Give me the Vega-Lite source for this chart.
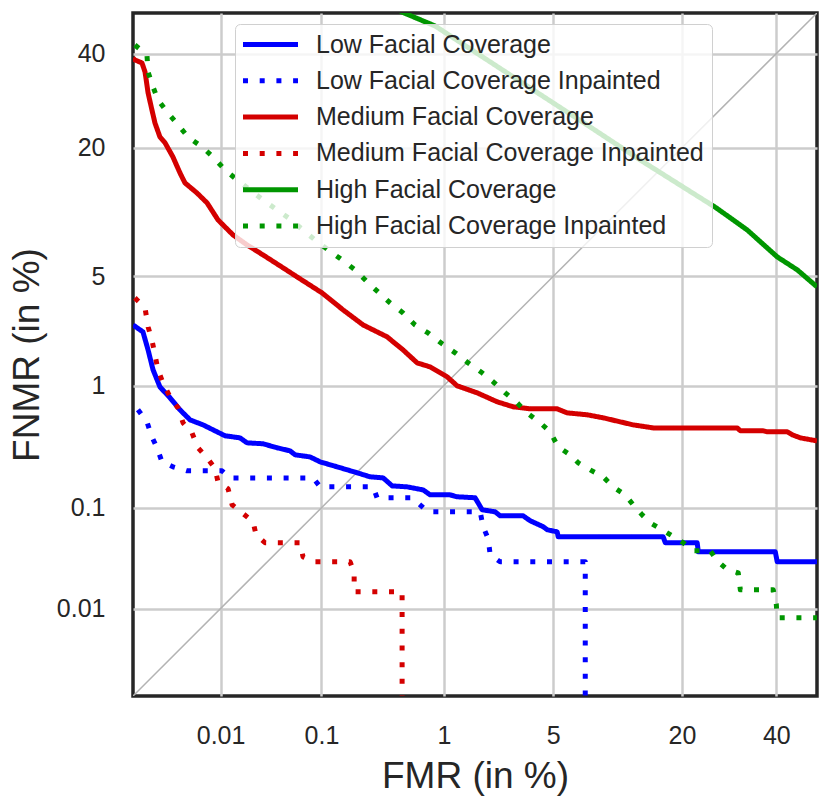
{
 "$schema": "https://vega.github.io/schema/vega-lite/v6.json",
 "width": 684,
 "height": 683,
 "autosize": "none",
 "padding": {"left": 133, "top": 13, "right": 12, "bottom": 110},
 "background": "white",
 "config": {
  "font": "Liberation Sans",
  "view": {"stroke": "#262626", "strokeWidth": 3.5},
  "axis": {"grid": true, "gridColor": "#cccccc", "gridWidth": 2.5, "ticks": false, "domain": false, "labelFont": "Liberation Sans", "labelFontSize": 25, "labelColor": "#262626", "titleFont": "Liberation Sans", "titleFontSize": 37, "titleFontWeight": "normal", "titleColor": "#262626"},
  "axisX": {"labelPadding": 27, "titlePadding": 10},
  "axisY": {"labelPadding": 28, "titlePadding": 10},
  "legend": {"orient": "none", "legendX": 102, "legendY": 11, "title": null, "symbolType": "M-2.75,0H2.75", "symbolSize": 400, "symbolStrokeWidth": 5, "symbolOffset": 15, "labelFontSize": 25, "labelFont": "Liberation Sans", "labelColor": "#262626", "labelOffset": 33, "rowPadding": 10.3, "padding": 8, "fillColor": "rgba(255,255,255,0.8)", "strokeColor": "#d0d0d0", "cornerRadius": 5, "labelLimit": 600}
 },
 "datasets": {
  "diag": [{"fmr_z": -4.265, "fnmr_z": -4.265}, {"fmr_z": 0, "fnmr_z": 0}],
  "curves": [
   {"series":"Low Facial Coverage","i":0,"fmr_z":-4.265,"fnmr_z":-1.948},
   {"series":"Low Facial Coverage","i":1,"fmr_z":-4.203,"fnmr_z":-1.991},
   {"series":"Low Facial Coverage","i":2,"fmr_z":-4.171,"fnmr_z":-2.104},
   {"series":"Low Facial Coverage","i":3,"fmr_z":-4.140,"fnmr_z":-2.228},
   {"series":"Low Facial Coverage","i":4,"fmr_z":-4.097,"fnmr_z":-2.335},
   {"series":"Low Facial Coverage","i":5,"fmr_z":-4.034,"fnmr_z":-2.403},
   {"series":"Low Facial Coverage","i":6,"fmr_z":-3.972,"fnmr_z":-2.478},
   {"series":"Low Facial Coverage","i":7,"fmr_z":-3.909,"fnmr_z":-2.541},
   {"series":"Low Facial Coverage","i":8,"fmr_z":-3.828,"fnmr_z":-2.572},
   {"series":"Low Facial Coverage","i":9,"fmr_z":-3.766,"fnmr_z":-2.603},
   {"series":"Low Facial Coverage","i":10,"fmr_z":-3.691,"fnmr_z":-2.640},
   {"series":"Low Facial Coverage","i":11,"fmr_z":-3.598,"fnmr_z":-2.653},
   {"series":"Low Facial Coverage","i":12,"fmr_z":-3.554,"fnmr_z":-2.684},
   {"series":"Low Facial Coverage","i":13,"fmr_z":-3.454,"fnmr_z":-2.690},
   {"series":"Low Facial Coverage","i":14,"fmr_z":-3.367,"fnmr_z":-2.715},
   {"series":"Low Facial Coverage","i":15,"fmr_z":-3.286,"fnmr_z":-2.734},
   {"series":"Low Facial Coverage","i":16,"fmr_z":-3.254,"fnmr_z":-2.759},
   {"series":"Low Facial Coverage","i":17,"fmr_z":-3.161,"fnmr_z":-2.772},
   {"series":"Low Facial Coverage","i":18,"fmr_z":-3.098,"fnmr_z":-2.803},
   {"series":"Low Facial Coverage","i":19,"fmr_z":-2.992,"fnmr_z":-2.834},
   {"series":"Low Facial Coverage","i":20,"fmr_z":-2.868,"fnmr_z":-2.871},
   {"series":"Low Facial Coverage","i":21,"fmr_z":-2.787,"fnmr_z":-2.896},
   {"series":"Low Facial Coverage","i":22,"fmr_z":-2.705,"fnmr_z":-2.903},
   {"series":"Low Facial Coverage","i":23,"fmr_z":-2.649,"fnmr_z":-2.953},
   {"series":"Low Facial Coverage","i":24,"fmr_z":-2.556,"fnmr_z":-2.959},
   {"series":"Low Facial Coverage","i":25,"fmr_z":-2.456,"fnmr_z":-2.978},
   {"series":"Low Facial Coverage","i":26,"fmr_z":-2.412,"fnmr_z":-3.009},
   {"series":"Low Facial Coverage","i":27,"fmr_z":-2.288,"fnmr_z":-3.009},
   {"series":"Low Facial Coverage","i":28,"fmr_z":-2.244,"fnmr_z":-3.021},
   {"series":"Low Facial Coverage","i":29,"fmr_z":-2.132,"fnmr_z":-3.027},
   {"series":"Low Facial Coverage","i":30,"fmr_z":-2.088,"fnmr_z":-3.102},
   {"series":"Low Facial Coverage","i":31,"fmr_z":-2.007,"fnmr_z":-3.115},
   {"series":"Low Facial Coverage","i":32,"fmr_z":-1.976,"fnmr_z":-3.140},
   {"series":"Low Facial Coverage","i":33,"fmr_z":-1.832,"fnmr_z":-3.140},
   {"series":"Low Facial Coverage","i":34,"fmr_z":-1.788,"fnmr_z":-3.171},
   {"series":"Low Facial Coverage","i":35,"fmr_z":-1.707,"fnmr_z":-3.208},
   {"series":"Low Facial Coverage","i":36,"fmr_z":-1.682,"fnmr_z":-3.227},
   {"series":"Low Facial Coverage","i":37,"fmr_z":-1.620,"fnmr_z":-3.240},
   {"series":"Low Facial Coverage","i":38,"fmr_z":-1.614,"fnmr_z":-3.271},
   {"series":"Low Facial Coverage","i":39,"fmr_z":-0.959,"fnmr_z":-3.271},
   {"series":"Low Facial Coverage","i":40,"fmr_z":-0.946,"fnmr_z":-3.308},
   {"series":"Low Facial Coverage","i":41,"fmr_z":-0.747,"fnmr_z":-3.308},
   {"series":"Low Facial Coverage","i":42,"fmr_z":-0.740,"fnmr_z":-3.365},
   {"series":"Low Facial Coverage","i":43,"fmr_z":-0.260,"fnmr_z":-3.365},
   {"series":"Low Facial Coverage","i":44,"fmr_z":-0.248,"fnmr_z":-3.427},
   {"series":"Low Facial Coverage","i":45,"fmr_z":0.0,"fnmr_z":-3.427},

   {"series":"Low Facial Coverage Inpainted","i":0,"fmr_z":-4.234,"fnmr_z":-2.478},
   {"series":"Low Facial Coverage Inpainted","i":1,"fmr_z":-4.178,"fnmr_z":-2.553},
   {"series":"Low Facial Coverage Inpainted","i":2,"fmr_z":-4.147,"fnmr_z":-2.647},
   {"series":"Low Facial Coverage Inpainted","i":3,"fmr_z":-4.115,"fnmr_z":-2.715},
   {"series":"Low Facial Coverage Inpainted","i":4,"fmr_z":-4.084,"fnmr_z":-2.803},
   {"series":"Low Facial Coverage Inpainted","i":5,"fmr_z":-4.016,"fnmr_z":-2.834},
   {"series":"Low Facial Coverage Inpainted","i":6,"fmr_z":-3.928,"fnmr_z":-2.859},
   {"series":"Low Facial Coverage Inpainted","i":7,"fmr_z":-3.710,"fnmr_z":-2.859},
   {"series":"Low Facial Coverage Inpainted","i":8,"fmr_z":-3.660,"fnmr_z":-2.903},
   {"series":"Low Facial Coverage Inpainted","i":9,"fmr_z":-3.142,"fnmr_z":-2.903},
   {"series":"Low Facial Coverage Inpainted","i":10,"fmr_z":-3.098,"fnmr_z":-2.959},
   {"series":"Low Facial Coverage Inpainted","i":11,"fmr_z":-2.768,"fnmr_z":-2.959},
   {"series":"Low Facial Coverage Inpainted","i":12,"fmr_z":-2.743,"fnmr_z":-3.027},
   {"series":"Low Facial Coverage Inpainted","i":13,"fmr_z":-2.525,"fnmr_z":-3.027},
   {"series":"Low Facial Coverage Inpainted","i":14,"fmr_z":-2.425,"fnmr_z":-3.115},
   {"series":"Low Facial Coverage Inpainted","i":15,"fmr_z":-2.100,"fnmr_z":-3.115},
   {"series":"Low Facial Coverage Inpainted","i":16,"fmr_z":-2.082,"fnmr_z":-3.208},
   {"series":"Low Facial Coverage Inpainted","i":17,"fmr_z":-2.050,"fnmr_z":-3.283},
   {"series":"Low Facial Coverage Inpainted","i":18,"fmr_z":-2.038,"fnmr_z":-3.383},
   {"series":"Low Facial Coverage Inpainted","i":19,"fmr_z":-1.976,"fnmr_z":-3.427},
   {"series":"Low Facial Coverage Inpainted","i":20,"fmr_z":-1.445,"fnmr_z":-3.427},
   {"series":"Low Facial Coverage Inpainted","i":21,"fmr_z":-1.445,"fnmr_z":-4.6},

   {"series":"Medium Facial Coverage","i":0,"fmr_z":-4.265,"fnmr_z":-0.281},
   {"series":"Medium Facial Coverage","i":1,"fmr_z":-4.253,"fnmr_z":-0.293},
   {"series":"Medium Facial Coverage","i":2,"fmr_z":-4.209,"fnmr_z":-0.312},
   {"series":"Medium Facial Coverage","i":3,"fmr_z":-4.190,"fnmr_z":-0.368},
   {"series":"Medium Facial Coverage","i":4,"fmr_z":-4.171,"fnmr_z":-0.499},
   {"series":"Medium Facial Coverage","i":5,"fmr_z":-4.147,"fnmr_z":-0.605},
   {"series":"Medium Facial Coverage","i":6,"fmr_z":-4.128,"fnmr_z":-0.687},
   {"series":"Medium Facial Coverage","i":7,"fmr_z":-4.097,"fnmr_z":-0.774},
   {"series":"Medium Facial Coverage","i":8,"fmr_z":-4.065,"fnmr_z":-0.811},
   {"series":"Medium Facial Coverage","i":9,"fmr_z":-4.016,"fnmr_z":-0.899},
   {"series":"Medium Facial Coverage","i":10,"fmr_z":-3.972,"fnmr_z":-0.999},
   {"series":"Medium Facial Coverage","i":11,"fmr_z":-3.941,"fnmr_z":-1.061},
   {"series":"Medium Facial Coverage","i":12,"fmr_z":-3.866,"fnmr_z":-1.124},
   {"series":"Medium Facial Coverage","i":13,"fmr_z":-3.803,"fnmr_z":-1.186},
   {"series":"Medium Facial Coverage","i":14,"fmr_z":-3.735,"fnmr_z":-1.292},
   {"series":"Medium Facial Coverage","i":15,"fmr_z":-3.641,"fnmr_z":-1.386},
   {"series":"Medium Facial Coverage","i":16,"fmr_z":-3.554,"fnmr_z":-1.448},
   {"series":"Medium Facial Coverage","i":17,"fmr_z":-3.454,"fnmr_z":-1.511},
   {"series":"Medium Facial Coverage","i":18,"fmr_z":-3.348,"fnmr_z":-1.579},
   {"series":"Medium Facial Coverage","i":19,"fmr_z":-3.242,"fnmr_z":-1.648},
   {"series":"Medium Facial Coverage","i":20,"fmr_z":-3.086,"fnmr_z":-1.748},
   {"series":"Medium Facial Coverage","i":21,"fmr_z":-2.955,"fnmr_z":-1.854},
   {"series":"Medium Facial Coverage","i":22,"fmr_z":-2.830,"fnmr_z":-1.948},
   {"series":"Medium Facial Coverage","i":23,"fmr_z":-2.681,"fnmr_z":-2.022},
   {"series":"Medium Facial Coverage","i":24,"fmr_z":-2.581,"fnmr_z":-2.104},
   {"series":"Medium Facial Coverage","i":25,"fmr_z":-2.493,"fnmr_z":-2.185},
   {"series":"Medium Facial Coverage","i":26,"fmr_z":-2.412,"fnmr_z":-2.210},
   {"series":"Medium Facial Coverage","i":27,"fmr_z":-2.306,"fnmr_z":-2.272},
   {"series":"Medium Facial Coverage","i":28,"fmr_z":-2.244,"fnmr_z":-2.328},
   {"series":"Medium Facial Coverage","i":29,"fmr_z":-2.119,"fnmr_z":-2.372},
   {"series":"Medium Facial Coverage","i":30,"fmr_z":-1.994,"fnmr_z":-2.428},
   {"series":"Medium Facial Coverage","i":31,"fmr_z":-1.895,"fnmr_z":-2.459},
   {"series":"Medium Facial Coverage","i":32,"fmr_z":-1.788,"fnmr_z":-2.472},
   {"series":"Medium Facial Coverage","i":33,"fmr_z":-1.620,"fnmr_z":-2.472},
   {"series":"Medium Facial Coverage","i":34,"fmr_z":-1.558,"fnmr_z":-2.497},
   {"series":"Medium Facial Coverage","i":35,"fmr_z":-1.433,"fnmr_z":-2.509},
   {"series":"Medium Facial Coverage","i":36,"fmr_z":-1.333,"fnmr_z":-2.528},
   {"series":"Medium Facial Coverage","i":37,"fmr_z":-1.227,"fnmr_z":-2.553},
   {"series":"Medium Facial Coverage","i":38,"fmr_z":-1.146,"fnmr_z":-2.572},
   {"series":"Medium Facial Coverage","i":39,"fmr_z":-1.021,"fnmr_z":-2.591},
   {"series":"Medium Facial Coverage","i":40,"fmr_z":-0.497,"fnmr_z":-2.591},
   {"series":"Medium Facial Coverage","i":41,"fmr_z":-0.478,"fnmr_z":-2.609},
   {"series":"Medium Facial Coverage","i":42,"fmr_z":-0.335,"fnmr_z":-2.609},
   {"series":"Medium Facial Coverage","i":43,"fmr_z":-0.310,"fnmr_z":-2.615},
   {"series":"Medium Facial Coverage","i":44,"fmr_z":-0.185,"fnmr_z":-2.615},
   {"series":"Medium Facial Coverage","i":45,"fmr_z":-0.154,"fnmr_z":-2.634},
   {"series":"Medium Facial Coverage","i":46,"fmr_z":-0.104,"fnmr_z":-2.653},
   {"series":"Medium Facial Coverage","i":47,"fmr_z":0.0,"fnmr_z":-2.672},

   {"series":"Medium Facial Coverage Inpainted","i":0,"fmr_z":-4.253,"fnmr_z":-1.779},
   {"series":"Medium Facial Coverage Inpainted","i":1,"fmr_z":-4.240,"fnmr_z":-1.792},
   {"series":"Medium Facial Coverage Inpainted","i":2,"fmr_z":-4.190,"fnmr_z":-1.841},
   {"series":"Medium Facial Coverage Inpainted","i":3,"fmr_z":-4.171,"fnmr_z":-1.960},
   {"series":"Medium Facial Coverage Inpainted","i":4,"fmr_z":-4.147,"fnmr_z":-2.041},
   {"series":"Medium Facial Coverage Inpainted","i":5,"fmr_z":-4.128,"fnmr_z":-2.135},
   {"series":"Medium Facial Coverage Inpainted","i":6,"fmr_z":-4.109,"fnmr_z":-2.228},
   {"series":"Medium Facial Coverage Inpainted","i":7,"fmr_z":-4.078,"fnmr_z":-2.310},
   {"series":"Medium Facial Coverage Inpainted","i":8,"fmr_z":-4.034,"fnmr_z":-2.397},
   {"series":"Medium Facial Coverage Inpainted","i":9,"fmr_z":-3.984,"fnmr_z":-2.466},
   {"series":"Medium Facial Coverage Inpainted","i":10,"fmr_z":-3.953,"fnmr_z":-2.559},
   {"series":"Medium Facial Coverage Inpainted","i":11,"fmr_z":-3.897,"fnmr_z":-2.622},
   {"series":"Medium Facial Coverage Inpainted","i":12,"fmr_z":-3.860,"fnmr_z":-2.715},
   {"series":"Medium Facial Coverage Inpainted","i":13,"fmr_z":-3.803,"fnmr_z":-2.778},
   {"series":"Medium Facial Coverage Inpainted","i":14,"fmr_z":-3.753,"fnmr_z":-2.846},
   {"series":"Medium Facial Coverage Inpainted","i":15,"fmr_z":-3.735,"fnmr_z":-2.928},
   {"series":"Medium Facial Coverage Inpainted","i":16,"fmr_z":-3.672,"fnmr_z":-2.971},
   {"series":"Medium Facial Coverage Inpainted","i":17,"fmr_z":-3.647,"fnmr_z":-3.071},
   {"series":"Medium Facial Coverage Inpainted","i":18,"fmr_z":-3.585,"fnmr_z":-3.121},
   {"series":"Medium Facial Coverage Inpainted","i":19,"fmr_z":-3.516,"fnmr_z":-3.177},
   {"series":"Medium Facial Coverage Inpainted","i":20,"fmr_z":-3.498,"fnmr_z":-3.258},
   {"series":"Medium Facial Coverage Inpainted","i":21,"fmr_z":-3.442,"fnmr_z":-3.308},
   {"series":"Medium Facial Coverage Inpainted","i":22,"fmr_z":-3.223,"fnmr_z":-3.308},
   {"series":"Medium Facial Coverage Inpainted","i":23,"fmr_z":-3.205,"fnmr_z":-3.396},
   {"series":"Medium Facial Coverage Inpainted","i":24,"fmr_z":-3.130,"fnmr_z":-3.427},
   {"series":"Medium Facial Coverage Inpainted","i":25,"fmr_z":-2.911,"fnmr_z":-3.427},
   {"series":"Medium Facial Coverage Inpainted","i":26,"fmr_z":-2.886,"fnmr_z":-3.496},
   {"series":"Medium Facial Coverage Inpainted","i":27,"fmr_z":-2.886,"fnmr_z":-3.614},
   {"series":"Medium Facial Coverage Inpainted","i":28,"fmr_z":-2.587,"fnmr_z":-3.614},
   {"series":"Medium Facial Coverage Inpainted","i":29,"fmr_z":-2.587,"fnmr_z":-4.6},

   {"series":"High Facial Coverage","i":0,"fmr_z":-2.849,"fnmr_z":0.144},
   {"series":"High Facial Coverage","i":1,"fmr_z":-2.574,"fnmr_z":0.0},
   {"series":"High Facial Coverage","i":2,"fmr_z":-2.381,"fnmr_z":-0.081},
   {"series":"High Facial Coverage","i":3,"fmr_z":-1.913,"fnmr_z":-0.387},
   {"series":"High Facial Coverage","i":4,"fmr_z":-1.414,"fnmr_z":-0.712},
   {"series":"High Facial Coverage","i":5,"fmr_z":-1.102,"fnmr_z":-0.918},
   {"series":"High Facial Coverage","i":6,"fmr_z":-0.628,"fnmr_z":-1.217},
   {"series":"High Facial Coverage","i":7,"fmr_z":-0.435,"fnmr_z":-1.355},
   {"series":"High Facial Coverage","i":8,"fmr_z":-0.248,"fnmr_z":-1.523},
   {"series":"High Facial Coverage","i":9,"fmr_z":-0.123,"fnmr_z":-1.604},
   {"series":"High Facial Coverage","i":10,"fmr_z":0.0,"fnmr_z":-1.710},

   {"series":"High Facial Coverage Inpainted","i":0,"fmr_z":-4.253,"fnmr_z":-0.200},
   {"series":"High Facial Coverage Inpainted","i":1,"fmr_z":-4.178,"fnmr_z":-0.262},
   {"series":"High Facial Coverage Inpainted","i":2,"fmr_z":-4.171,"fnmr_z":-0.368},
   {"series":"High Facial Coverage Inpainted","i":3,"fmr_z":-4.140,"fnmr_z":-0.462},
   {"series":"High Facial Coverage Inpainted","i":4,"fmr_z":-4.109,"fnmr_z":-0.543},
   {"series":"High Facial Coverage Inpainted","i":5,"fmr_z":-4.047,"fnmr_z":-0.624},
   {"series":"High Facial Coverage Inpainted","i":6,"fmr_z":-3.984,"fnmr_z":-0.699},
   {"series":"High Facial Coverage Inpainted","i":7,"fmr_z":-3.922,"fnmr_z":-0.774},
   {"series":"High Facial Coverage Inpainted","i":8,"fmr_z":-3.835,"fnmr_z":-0.836},
   {"series":"High Facial Coverage Inpainted","i":9,"fmr_z":-3.766,"fnmr_z":-0.899},
   {"series":"High Facial Coverage Inpainted","i":10,"fmr_z":-3.691,"fnmr_z":-0.980},
   {"series":"High Facial Coverage Inpainted","i":11,"fmr_z":-3.616,"fnmr_z":-1.042},
   {"series":"High Facial Coverage Inpainted","i":12,"fmr_z":-3.535,"fnmr_z":-1.105},
   {"series":"High Facial Coverage Inpainted","i":13,"fmr_z":-3.454,"fnmr_z":-1.167},
   {"series":"High Facial Coverage Inpainted","i":14,"fmr_z":-3.367,"fnmr_z":-1.230},
   {"series":"High Facial Coverage Inpainted","i":15,"fmr_z":-3.286,"fnmr_z":-1.286},
   {"series":"High Facial Coverage Inpainted","i":16,"fmr_z":-3.205,"fnmr_z":-1.355},
   {"series":"High Facial Coverage Inpainted","i":17,"fmr_z":-3.130,"fnmr_z":-1.417},
   {"series":"High Facial Coverage Inpainted","i":18,"fmr_z":-3.049,"fnmr_z":-1.479},
   {"series":"High Facial Coverage Inpainted","i":19,"fmr_z":-2.961,"fnmr_z":-1.542},
   {"series":"High Facial Coverage Inpainted","i":20,"fmr_z":-2.880,"fnmr_z":-1.604},
   {"series":"High Facial Coverage Inpainted","i":21,"fmr_z":-2.805,"fnmr_z":-1.679},
   {"series":"High Facial Coverage Inpainted","i":22,"fmr_z":-2.737,"fnmr_z":-1.742},
   {"series":"High Facial Coverage Inpainted","i":23,"fmr_z":-2.662,"fnmr_z":-1.810},
   {"series":"High Facial Coverage Inpainted","i":24,"fmr_z":-2.581,"fnmr_z":-1.873},
   {"series":"High Facial Coverage Inpainted","i":25,"fmr_z":-2.506,"fnmr_z":-1.948},
   {"series":"High Facial Coverage Inpainted","i":26,"fmr_z":-2.425,"fnmr_z":-1.998},
   {"series":"High Facial Coverage Inpainted","i":27,"fmr_z":-2.337,"fnmr_z":-2.066},
   {"series":"High Facial Coverage Inpainted","i":28,"fmr_z":-2.256,"fnmr_z":-2.122},
   {"series":"High Facial Coverage Inpainted","i":29,"fmr_z":-2.175,"fnmr_z":-2.185},
   {"series":"High Facial Coverage Inpainted","i":30,"fmr_z":-2.088,"fnmr_z":-2.247},
   {"series":"High Facial Coverage Inpainted","i":31,"fmr_z":-2.019,"fnmr_z":-2.303},
   {"series":"High Facial Coverage Inpainted","i":32,"fmr_z":-1.944,"fnmr_z":-2.372},
   {"series":"High Facial Coverage Inpainted","i":33,"fmr_z":-1.870,"fnmr_z":-2.434},
   {"series":"High Facial Coverage Inpainted","i":34,"fmr_z":-1.807,"fnmr_z":-2.497},
   {"series":"High Facial Coverage Inpainted","i":35,"fmr_z":-1.726,"fnmr_z":-2.559},
   {"series":"High Facial Coverage Inpainted","i":36,"fmr_z":-1.664,"fnmr_z":-2.615},
   {"series":"High Facial Coverage Inpainted","i":37,"fmr_z":-1.614,"fnmr_z":-2.709},
   {"series":"High Facial Coverage Inpainted","i":38,"fmr_z":-1.539,"fnmr_z":-2.759},
   {"series":"High Facial Coverage Inpainted","i":39,"fmr_z":-1.489,"fnmr_z":-2.809},
   {"series":"High Facial Coverage Inpainted","i":40,"fmr_z":-1.414,"fnmr_z":-2.853},
   {"series":"High Facial Coverage Inpainted","i":41,"fmr_z":-1.333,"fnmr_z":-2.896},
   {"series":"High Facial Coverage Inpainted","i":42,"fmr_z":-1.271,"fnmr_z":-2.959},
   {"series":"High Facial Coverage Inpainted","i":43,"fmr_z":-1.196,"fnmr_z":-3.009},
   {"series":"High Facial Coverage Inpainted","i":44,"fmr_z":-1.146,"fnmr_z":-3.071},
   {"series":"High Facial Coverage Inpainted","i":45,"fmr_z":-1.090,"fnmr_z":-3.134},
   {"series":"High Facial Coverage Inpainted","i":46,"fmr_z":-1.040,"fnmr_z":-3.184},
   {"series":"High Facial Coverage Inpainted","i":47,"fmr_z":-0.965,"fnmr_z":-3.227},
   {"series":"High Facial Coverage Inpainted","i":48,"fmr_z":-0.903,"fnmr_z":-3.265},
   {"series":"High Facial Coverage Inpainted","i":49,"fmr_z":-0.834,"fnmr_z":-3.308},
   {"series":"High Facial Coverage Inpainted","i":50,"fmr_z":-0.772,"fnmr_z":-3.358},
   {"series":"High Facial Coverage Inpainted","i":51,"fmr_z":-0.666,"fnmr_z":-3.358},
   {"series":"High Facial Coverage Inpainted","i":52,"fmr_z":-0.622,"fnmr_z":-3.421},
   {"series":"High Facial Coverage Inpainted","i":53,"fmr_z":-0.566,"fnmr_z":-3.471},
   {"series":"High Facial Coverage Inpainted","i":54,"fmr_z":-0.491,"fnmr_z":-3.496},
   {"series":"High Facial Coverage Inpainted","i":55,"fmr_z":-0.478,"fnmr_z":-3.602},
   {"series":"High Facial Coverage Inpainted","i":56,"fmr_z":-0.273,"fnmr_z":-3.602},
   {"series":"High Facial Coverage Inpainted","i":57,"fmr_z":-0.254,"fnmr_z":-3.689},
   {"series":"High Facial Coverage Inpainted","i":58,"fmr_z":-0.248,"fnmr_z":-3.777},
   {"series":"High Facial Coverage Inpainted","i":59,"fmr_z":0.0,"fnmr_z":-3.777}
  ]
 },
 "encoding": {
  "x": {"field": "fmr_z", "type": "quantitative", "scale": {"domain": [-4.265, 0], "nice": false, "zero": false},
   "axis": {"title": "FMR (in %)", "values": [-3.719, -3.0902, -2.3263, -1.6449, -0.8416, -0.2533],
    "labelExpr": "datum.value < -3.5 ? '0.01' : datum.value < -2.9 ? '0.1' : datum.value < -2 ? '1' : datum.value < -1.2 ? '5' : datum.value < -0.5 ? '20' : '40'"}},
  "y": {"field": "fnmr_z", "type": "quantitative", "scale": {"domain": [-4.265, 0], "nice": false, "zero": false},
   "axis": {"title": "FNMR (in %)", "values": [-3.719, -3.0902, -2.3263, -1.6449, -0.8416, -0.2533],
    "labelExpr": "datum.value < -3.5 ? '0.01' : datum.value < -2.9 ? '0.1' : datum.value < -2 ? '1' : datum.value < -1.2 ? '5' : datum.value < -0.5 ? '20' : '40'"}}
 },
 "layer": [
  {"data": {"name": "diag"}, "mark": {"type": "line", "color": "#b3b3b3", "strokeWidth": 1.5, "clip": true}, "encoding": {}},
  {"data": {"name": "curves"}, "mark": {"type": "line", "strokeWidth": 5, "clip": true, "strokeJoin": "round", "strokeCap": "butt"},
   "encoding": {
    "order": {"field": "i", "type": "quantitative"},
    "color": {"field": "series", "type": "nominal",
     "scale": {"domain": ["Low Facial Coverage", "Low Facial Coverage Inpainted", "Medium Facial Coverage", "Medium Facial Coverage Inpainted", "High Facial Coverage", "High Facial Coverage Inpainted"],
      "range": ["#0000ff", "#0000ff", "#d40000", "#d40000", "#009600", "#009600"]}},
    "strokeDash": {"field": "series", "type": "nominal",
     "scale": {"domain": ["Low Facial Coverage", "Low Facial Coverage Inpainted", "Medium Facial Coverage", "Medium Facial Coverage Inpainted", "High Facial Coverage", "High Facial Coverage Inpainted"],
      "range": [[1, 0], [5, 11.7], [1, 0], [5, 11.7], [1, 0], [5, 11.7]]}}
   }}
 ]
}
